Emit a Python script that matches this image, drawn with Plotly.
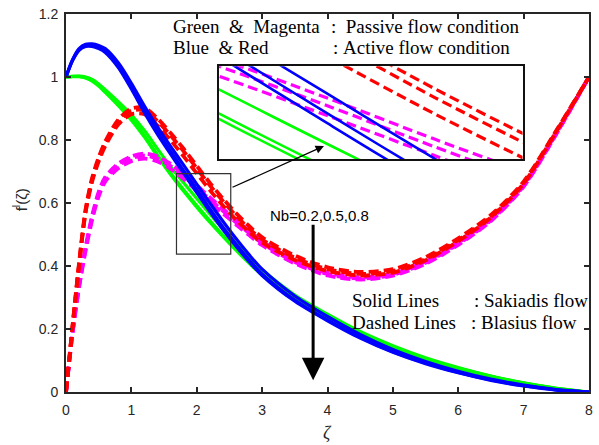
import plotly.graph_objects as go

# ---------------- data ----------------
X = [0, 0.1, 0.2, 0.3, 0.4, 0.5, 0.6, 0.8, 1.0, 1.2, 1.4, 1.6, 1.8, 2.0, 2.2, 2.4,
     2.6, 2.8, 3.0, 3.5, 4.0, 4.5, 5.0, 5.5, 6.0, 6.5, 7.0, 7.5, 8.0]

# Sakiadis, passive (green), Nb = 0.2, 0.5, 0.8
green_nb02 = [1.000, 1.002, 1.003, 1.000, 0.992, 0.978, 0.960, 0.922, 0.880, 0.830, 0.772, 0.716, 0.664, 0.614, 0.565, 0.518,
              0.472, 0.428, 0.388, 0.308, 0.247, 0.192, 0.147, 0.109, 0.078, 0.051, 0.029, 0.012, 0.000]
green_nb05 = [1.000, 1.002, 1.002, 0.998, 0.989, 0.974, 0.954, 0.913, 0.868, 0.814, 0.753, 0.695, 0.642, 0.592, 0.544, 0.498,
              0.454, 0.412, 0.374, 0.297, 0.239, 0.186, 0.143, 0.106, 0.076, 0.050, 0.028, 0.012, 0.000]
green_nb08 = [1.000, 1.001, 1.001, 0.997, 0.987, 0.971, 0.951, 0.909, 0.863, 0.809, 0.748, 0.690, 0.637, 0.587, 0.539, 0.494,
              0.450, 0.409, 0.371, 0.295, 0.237, 0.185, 0.142, 0.105, 0.075, 0.049, 0.028, 0.011, 0.000]

# Sakiadis, active (blue)
blue_nb02 = [1.000, 1.055, 1.090, 1.104, 1.105, 1.100, 1.090, 1.045, 0.980, 0.908, 0.842, 0.780, 0.720, 0.660, 0.600, 0.542,
             0.487, 0.436, 0.390, 0.305, 0.240, 0.183, 0.135, 0.097, 0.066, 0.041, 0.022, 0.008, 0.000]
blue_nb05 = [1.000, 1.053, 1.087, 1.100, 1.100, 1.094, 1.083, 1.036, 0.969, 0.895, 0.827, 0.764, 0.703, 0.642, 0.582, 0.524,
             0.470, 0.420, 0.375, 0.292, 0.229, 0.174, 0.128, 0.092, 0.062, 0.038, 0.020, 0.007, 0.000]
blue_nb08 = [1.000, 1.052, 1.085, 1.097, 1.097, 1.090, 1.078, 1.030, 0.962, 0.887, 0.818, 0.755, 0.694, 0.633, 0.573, 0.516,
             0.463, 0.414, 0.370, 0.288, 0.226, 0.171, 0.126, 0.090, 0.061, 0.037, 0.019, 0.006, 0.000]

# Blasius, passive (magenta)
magenta_nb02 = [0.000, 0.190, 0.340, 0.460, 0.560, 0.635, 0.682, 0.725, 0.748, 0.757, 0.748, 0.724, 0.692, 0.656, 0.618, 0.582,
                0.546, 0.511, 0.478, 0.418, 0.378, 0.364, 0.376, 0.414, 0.474, 0.549, 0.657, 0.822, 1.000]
magenta_nb05 = [0.000, 0.188, 0.336, 0.455, 0.554, 0.629, 0.676, 0.719, 0.742, 0.750, 0.741, 0.717, 0.685, 0.649, 0.611, 0.575,
                0.539, 0.505, 0.472, 0.413, 0.374, 0.360, 0.372, 0.410, 0.470, 0.545, 0.654, 0.820, 1.000]
magenta_nb08 = [0.000, 0.186, 0.332, 0.449, 0.547, 0.621, 0.668, 0.710, 0.733, 0.741, 0.732, 0.708, 0.676, 0.640, 0.603, 0.567,
                0.532, 0.498, 0.466, 0.408, 0.370, 0.357, 0.369, 0.407, 0.467, 0.543, 0.652, 0.819, 1.000]

# Blasius, active (red)
red_nb02 = [0.000, 0.210, 0.410, 0.580, 0.680, 0.745, 0.795, 0.865, 0.900, 0.902, 0.868, 0.822, 0.772, 0.718, 0.664, 0.614,
            0.568, 0.527, 0.491, 0.433, 0.396, 0.381, 0.390, 0.428, 0.488, 0.562, 0.668, 0.830, 1.000]
red_nb05 = [0.000, 0.208, 0.406, 0.575, 0.674, 0.739, 0.789, 0.858, 0.893, 0.894, 0.860, 0.814, 0.764, 0.710, 0.656, 0.606,
            0.560, 0.519, 0.484, 0.426, 0.390, 0.375, 0.384, 0.422, 0.483, 0.557, 0.664, 0.828, 1.000]
red_nb08 = [0.000, 0.206, 0.402, 0.570, 0.668, 0.732, 0.781, 0.849, 0.882, 0.882, 0.846, 0.799, 0.748, 0.694, 0.641, 0.592,
            0.547, 0.508, 0.474, 0.419, 0.384, 0.370, 0.379, 0.418, 0.479, 0.554, 0.662, 0.827, 1.000]

x_ticks = [0, 1, 2, 3, 4, 5, 6, 7, 8]
y_ticks = [0, 0.2, 0.4, 0.6, 0.8, 1.0, 1.2]
y_ticktext = ["0", "0.2", "0.4", "0.6", "0.8", "1", "1.2"]

# ---------------- figure ----------------
fig = go.Figure()

families = [
    ([green_nb02, green_nb05, green_nb08], "#00ff00", "solid"),
    ([magenta_nb02, magenta_nb05, magenta_nb08], "#ff00ff", "10px,5px"),
    ([red_nb02, red_nb05, red_nb08], "#ff0000", "10px,5px"),
    ([blue_nb02, blue_nb05, blue_nb08], "#0000ff", "solid"),
]

for axes, w in ((("x", "y"), 3.2), (("x2", "y2"), 2.6)):
    for series, color, dash in families:
        for ys in series:
            fig.add_trace(go.Scatter(
                x=X, y=ys, mode="lines", xaxis=axes[0], yaxis=axes[1],
                line=dict(color=color, width=w if dash == "solid" else w + 0.6,
                          dash=dash, shape="spline", smoothing=0.8),
                showlegend=False, hoverinfo="skip"))

axis_color = "#262626"
tickfont = dict(family="Liberation Sans, Arial, sans-serif", size=14, color=axis_color)

fig.update_layout(
    width=599, height=445,
    margin=dict(l=66, r=6, t=14, b=53),
    paper_bgcolor="white", plot_bgcolor="white",
    showlegend=False,
    xaxis=dict(range=[0, 8], tickvals=x_ticks, ticks="inside", ticklen=5, tickwidth=1.5,
               tickcolor=axis_color, showline=True, linecolor=axis_color, linewidth=1.8,
               mirror="ticks", showgrid=False, zeroline=False, tickfont=tickfont,
               ticklabelstandoff=4),
    yaxis=dict(range=[0, 1.2], tickvals=y_ticks, ticktext=y_ticktext, ticks="inside",
               ticklen=5, tickwidth=1.5, tickcolor=axis_color, showline=True,
               linecolor=axis_color, linewidth=1.8, mirror="ticks", showgrid=False,
               zeroline=False, tickfont=tickfont, ticklabelstandoff=3),
    xaxis2=dict(domain=[0.2922, 0.8729], anchor="y2", range=[1.80, 2.36],
                showticklabels=False, ticks="", showline=True, linecolor="#111111",
                linewidth=2, mirror=True, showgrid=False, zeroline=False),
    yaxis2=dict(domain=[0.6156, 0.8616], anchor="x2", range=[0.60, 0.685],
                showticklabels=False, ticks="", showline=True, linecolor="#111111",
                linewidth=2, mirror=True, showgrid=False, zeroline=False),
)

# zoom box in main axes
fig.add_shape(type="rect", xref="x", yref="y", x0=1.69, x1=2.52, y0=0.438, y1=0.693,
              line=dict(color="#333333", width=1.2), fillcolor="rgba(0,0,0,0)")

serif = dict(family="Liberation Serif, Times New Roman, serif", size=19, color="black")
sans = dict(family="Liberation Sans, Arial, sans-serif", size=15, color="black")
nb = "\u00a0"

def px2paper(px, py):
    return (px - 66) / 527, (392 - py) / 378

texts = [
    (172, 26, f"Green{nb}{nb}&{nb}{nb}Magenta"),
    (331, 26, f":{nb}{nb}Passive flow condition"),
    (172, 47, f"Blue{nb}{nb}&{nb}Red"),
    (333, 47, f":{nb}Active flow condition"),
    (352, 300, "Solid Lines"),
    (475, 300, f":{nb}Sakiadis flow"),
    (352, 322, "Dashed Lines"),
    (472, 322, f":{nb}Blasius flow"),
]
for px, py, t in texts:
    xx, yy = px2paper(px, py)
    fig.add_annotation(x=xx, y=yy, xref="paper", yref="paper", text=t, showarrow=False,
                       xanchor="left", yanchor="middle", font=serif)

xx, yy = px2paper(321, 215)
fig.add_annotation(x=xx, y=yy, xref="paper", yref="paper", text="Nb=0.2,0.5,0.8",
                   showarrow=False, xanchor="center", yanchor="middle", font=sans)

# big arrow
fig.add_annotation(x=3.78, y=0.037, xref="x", yref="y", text="", showarrow=True,
                   ax=0, ay=-157, arrowhead=2, arrowsize=1.5, arrowwidth=3, arrowcolor="black")

# thin arrow from zoom box to inset
xx, yy = px2paper(326, 146)
fig.add_annotation(x=xx, y=yy, xref="paper", yref="paper", text="", showarrow=True,
                   ax=-93, ay=42, arrowhead=2, arrowsize=1.4, arrowwidth=1.2, arrowcolor="black")

# axis titles
xx, yy = px2paper(329, 433)
fig.add_annotation(x=xx, y=yy, xref="paper", yref="paper", text="<i>ζ</i>", showarrow=False,
                   xanchor="center", yanchor="middle",
                   font=dict(family="Liberation Serif, serif", size=18, color=axis_color))
xx, yy = px2paper(19, 200)
fig.add_annotation(x=xx, y=yy, xref="paper", yref="paper", text="f<sup>l</sup>(ζ)", showarrow=False,
                   xanchor="center", yanchor="middle", textangle=-90,
                   font=dict(family="Liberation Sans, Arial, sans-serif", size=15, color=axis_color))

fig.write_html("out.html")
